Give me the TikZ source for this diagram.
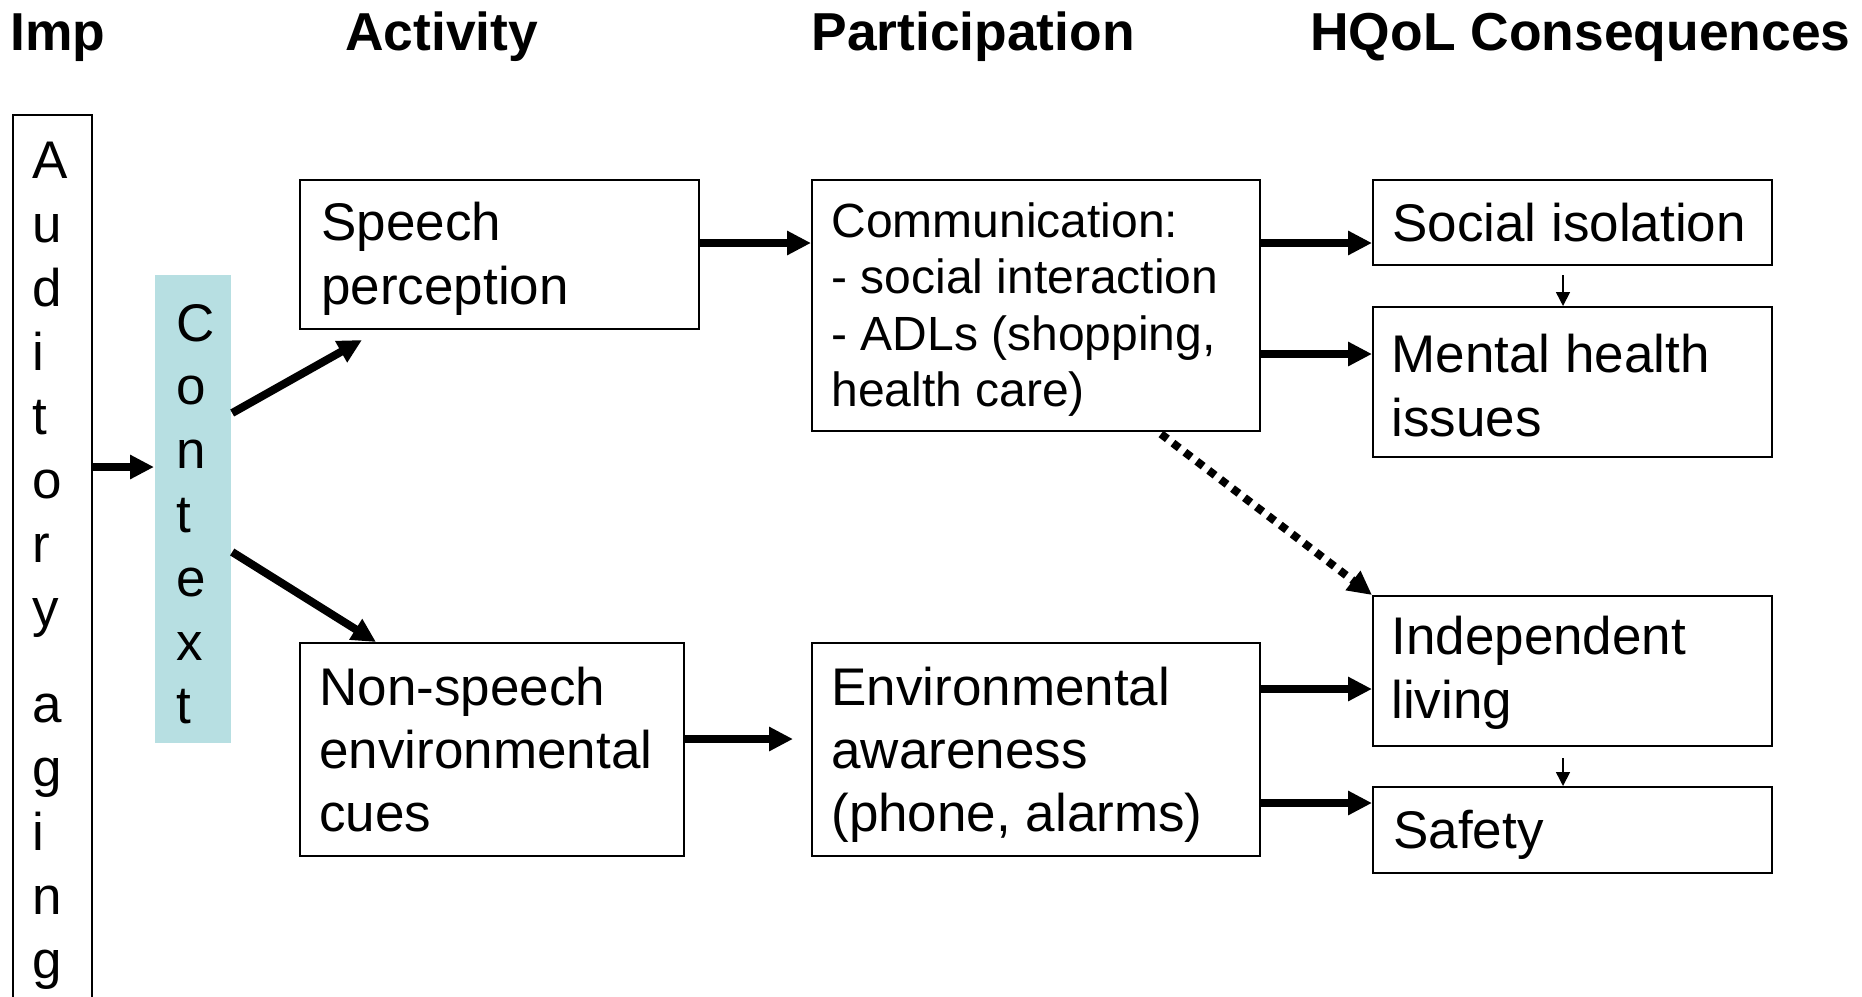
\documentclass[tikz,border=0pt]{standalone}
\usepackage{fontspec}
\setmainfont{Liberation Sans}
\usetikzlibrary{arrows.meta}
\definecolor{ctxcol}{RGB}{183,223,226}
\newcommand\stk[2]{\vtop{\baselineskip=#1\relax #2}}
\tikzset{
  box/.style={draw, line width=1.1pt, rectangle, inner sep=0pt, anchor=north west},
  txt/.style={anchor=base west, inner sep=0pt, font=\fontsize{26.5pt}{32pt}\selectfont},
  smalltxt/.style={anchor=base west, inner sep=0pt, font=\fontsize{24pt}{28pt}\selectfont},
  ttl/.style={anchor=base west, inner sep=0pt, font=\fontsize{26.7pt}{32pt}\selectfont\bfseries},
  arr/.style={line width=4pt, -{Triangle[length=12pt,width=11.5pt]}},
  thinarr/.style={line width=0.8pt, -{Triangle[length=7pt,width=7pt]}},
  dotarr/.style={line width=4pt, dash pattern=on 4pt off 3.5pt, -{Triangle[length=12pt,width=11.5pt]}},
}
\begin{document}
\begin{tikzpicture}[x=0.5pt,y=-0.5pt]
\fill[white] (0,0) rectangle (1862,996);
\clip (0,0) rectangle (1862,996);
% titles
\node[ttl] (tImp) at (10,50) {Imp};
\node[ttl] (tAct) at (345,50) {Activity};
\node[ttl] (tPar) at (811,50) {Participation};
\node[ttl] (tHQ) at (1310,50) {HQoL Consequences};
% boxes
\node[box, minimum width=39.5pt, minimum height=475pt] (aud) at (12,114) {};
\node[box, draw=none, fill=ctxcol, minimum width=38pt, minimum height=234pt] (ctx) at (154,274) {};
\node[box, minimum width=199.5pt, minimum height=74.5pt] (speech) at (299,179) {};
\node[box, minimum width=224pt, minimum height=125.5pt] (comm) at (811,179) {};
\node[box, minimum width=199.5pt, minimum height=42.5pt] (social) at (1372,179) {};
\node[box, minimum width=199.5pt, minimum height=75pt] (mental) at (1372,306) {};
\node[box, minimum width=199.5pt, minimum height=75pt] (indep) at (1372,595) {};
\node[box, minimum width=199.5pt, minimum height=43pt] (safety) at (1372,786) {};
\node[box, minimum width=192pt, minimum height=106.5pt] (nonsp) at (299,642) {};
\node[box, minimum width=224pt, minimum height=106.5pt] (env) at (811,642) {};
% texts
\node[txt] (audt) at (32,178) {\stk{32pt}{\hbox{A}\hbox{u}\hbox{d}\hbox{i}\hbox{t}\hbox{o}\hbox{r}\hbox{y}\vskip16pt\hbox{a}\hbox{g}\hbox{i}\hbox{n}\hbox{g}}};
\node[txt] (ctxt) at (176,341) {\stk{31.9pt}{\hbox{C}\hbox{o}\hbox{n}\hbox{t}\hbox{e}\hbox{x}\hbox{t}}};
\node[txt] (speecht) at (321,240) {\stk{32pt}{\hbox{Speech}\hbox{perception}}};
\node[smalltxt] (commt) at (831,237) {\stk{28.25pt}{\hbox{Communication:}\hbox{- social interaction}\hbox{- ADLs (shopping,}\hbox{health care)}}};
\node[txt] (socialt) at (1392,241) {Social isolation};
\node[txt] (mentalt) at (1391,372) {\stk{32pt}{\hbox{Mental health}\hbox{issues}}};
\node[txt] (indept) at (1391,654) {\stk{32pt}{\hbox{Independent}\hbox{living}}};
\node[txt] (safetyt) at (1393,848) {Safety};
\node[txt] (nonspt) at (319,705) {\stk{31.5pt}{\hbox{Non-speech}\hbox{environmental}\hbox{cues}}};
\node[txt] (envt) at (831,705) {\stk{31.5pt}{\hbox{Environmental}\hbox{awareness}\hbox{(phone, alarms)}}};
% helper coordinates
\coordinate (p1) at (0,467);
\coordinate (p2) at (0,413);
\coordinate (e2) at (362,340);
\coordinate (p3) at (0,552);
\coordinate (e3) at (376,0);
\coordinate (p4) at (0,243);
\coordinate (p5) at (0,354);
\coordinate (s6) at (1161,434);
\coordinate (p7) at (0,739);
\coordinate (e7) at (793,739);
\coordinate (p8) at (0,689);
\coordinate (p9) at (0,803);
\coordinate (q) at (1563,0);
% connectors
\draw[arr] (aud.east |- p1) -- (ctx.west |- p1);
\draw[arr] (ctx.east |- p2) -- (e2);
\draw[arr] (ctx.east |- p3) -- (e3 |- nonsp.north);
\draw[arr] (speech.east |- p4) -- (comm.west |- p4);
\draw[arr] (comm.east |- p4) -- (social.west |- p4);
\draw[arr] (comm.east |- p5) -- (mental.west |- p5);
\draw[dotarr] (s6) -- (indep.north west);
\draw[arr] (nonsp.east |- p7) -- (e7);
\draw[arr] (env.east |- p8) -- (indep.west |- p8);
\draw[arr] (env.east |- p9) -- (safety.west |- p9);
\draw[thinarr] ([yshift=-4.5pt]social.south -| q) -- (mental.north -| q);
\draw[thinarr] ([yshift=-5.5pt]indep.south -| q) -- (safety.north -| q);
\end{tikzpicture}
\end{document}
